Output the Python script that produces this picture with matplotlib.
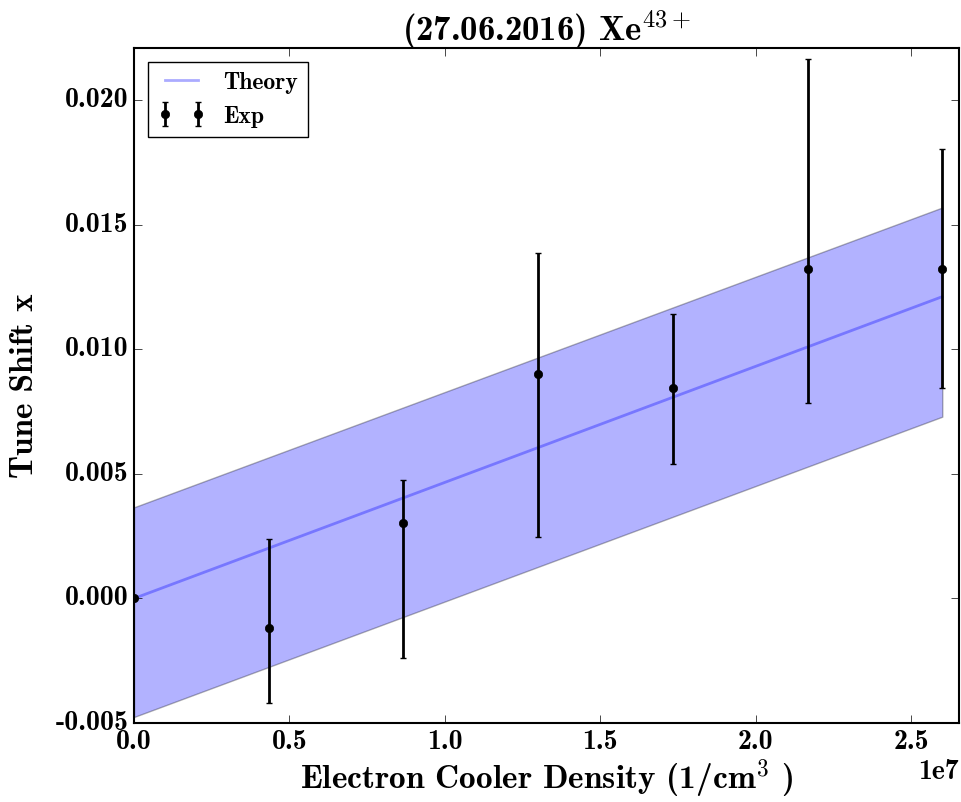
import matplotlib
matplotlib.use("Agg")
import matplotlib.pyplot as plt
import numpy as np

# ---- data ----
exp_x = [0.0, 0.4333e7, 0.8667e7, 1.3e7, 1.7333e7, 2.1667e7, 2.6e7]
exp_y = [0.0, -0.0012, 0.00305, 0.0090, 0.00846, 0.01325, 0.01325]
exp_err_low = [0.0, 0.0030, 0.00545, 0.00654, 0.00304, 0.00541, 0.00480]
exp_err_high = [0.0, 0.0036, 0.00172, 0.00486, 0.00298, 0.00842, 0.00479]

theory_x = [0.0, 2.6e7]
theory_y = [0.0, 0.01212]
theory_low = [-0.00476, 0.0073]
theory_high = [0.00366, 0.0157]

title = "(27.06.2016) Xe$^{43+}$"
xlabel = "Electron Cooler Density (1/cm$^3$ )"
ylabel = "Tune Shift x"

plt.style.use("classic")
plt.rcParams.update({
    "font.family": ["cmb10", "DejaVu Serif"],
    "mathtext.fontset": "cm",
    "axes.unicode_minus": False,
    "figure.facecolor": "white",
    "savefig.facecolor": "white",
    "axes.linewidth": 1.5,
    "xtick.major.size": 6,
    "ytick.major.size": 6,
    "xtick.minor.size": 3,
    "ytick.minor.size": 3,
    "xtick.labelsize": 20,
    "ytick.labelsize": 20,
})

fig = plt.figure(figsize=(9.61, 8.02), dpi=100)
ax = fig.add_axes([0.1394, 0.0985, 0.8586, 0.8415])

ax.fill_between(theory_x, theory_low, theory_high, facecolor="blue",
                edgecolor="black", alpha=0.3, linewidth=1)
ax.plot(theory_x, theory_y, color="blue", alpha=0.33, linewidth=2, label="Theory")
ax.errorbar(exp_x, exp_y, yerr=[exp_err_low, exp_err_high], fmt="o", color="black",
            ecolor="black", elinewidth=2, capsize=2.5, capthick=1, markersize=6,
            markeredgecolor="black", label="Exp")

ax.set_xlim(0, 2.654e7)
ax.set_ylim(-0.005, 0.0221)
ax.set_xticks([0, 0.5e7, 1.0e7, 1.5e7, 2.0e7, 2.5e7])
ax.set_yticks([-0.005, 0.0, 0.005, 0.010, 0.015, 0.020])
ax.xaxis.get_offset_text().set_fontsize(20)

ax.set_title(title, fontsize=25)
ax.set_xlabel(xlabel, fontsize=24, labelpad=2)
ax.set_ylabel(ylabel, fontsize=24, labelpad=12)

leg = ax.legend(loc="upper left", fontsize=17, numpoints=2,
                borderaxespad=0.6, frameon=True)
leg.get_frame().set_linewidth(1.0)

fig.savefig("out.png", dpi=100)
